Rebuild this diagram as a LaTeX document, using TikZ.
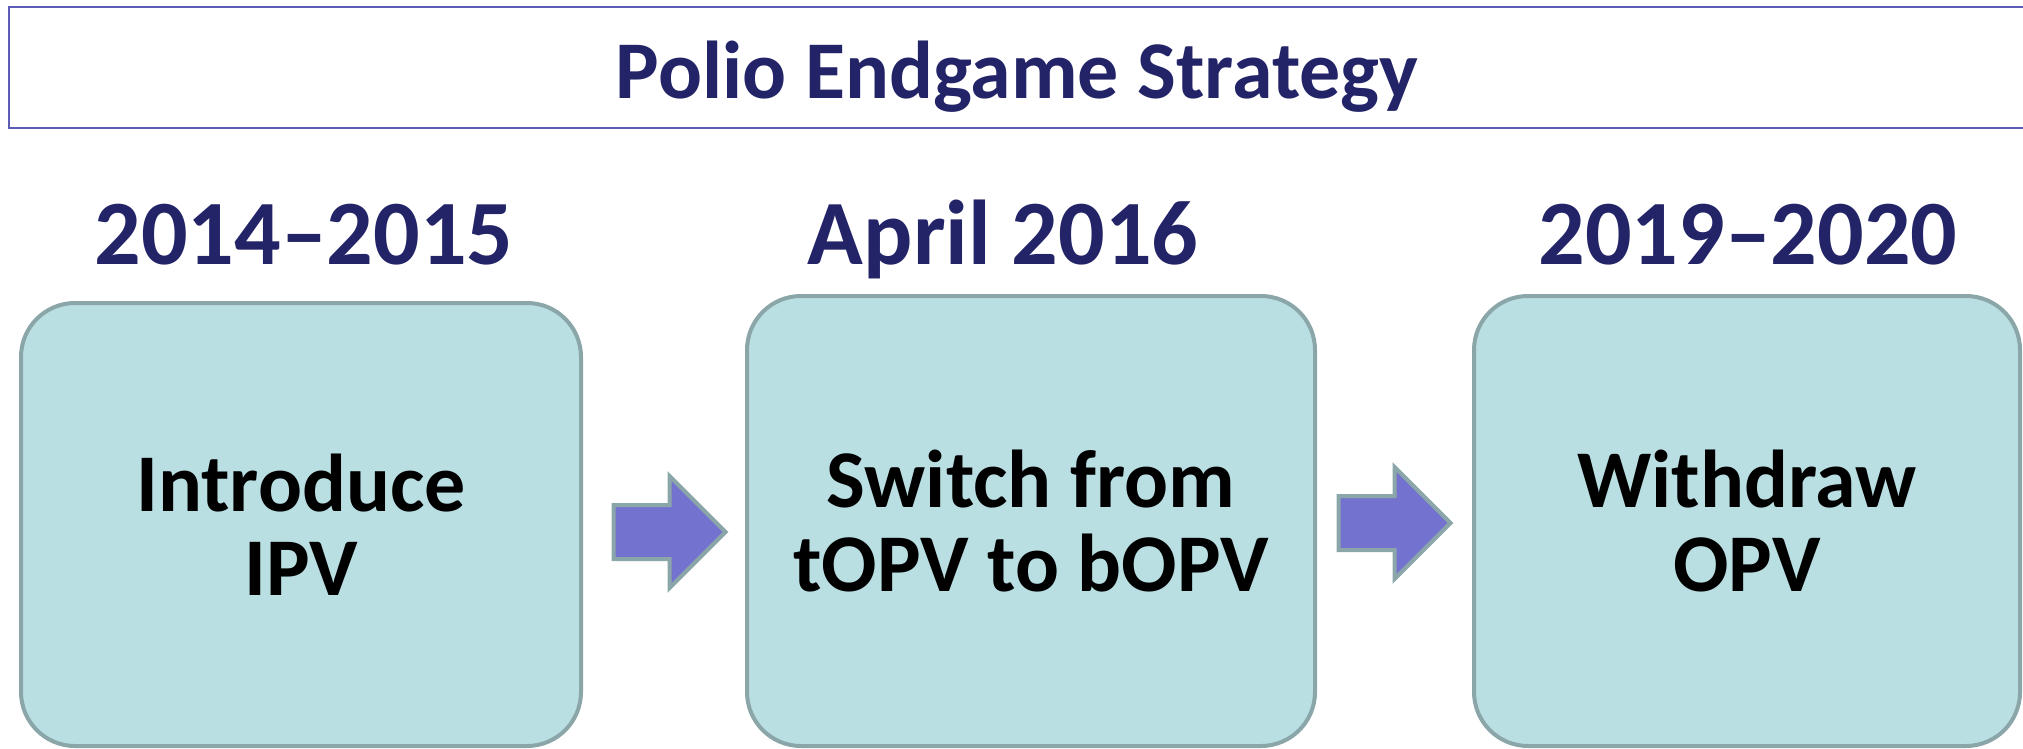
\documentclass[tikz,border=0pt]{standalone}
\usepackage{fontspec}
\setmainfont{Carlito}
\usetikzlibrary{shapes.arrows}
\definecolor{stagefill}{HTML}{B9DFE3}
\definecolor{stageline}{HTML}{8BA6A8}
\definecolor{navy}{RGB}{35,35,104}
\definecolor{arrowfill}{HTML}{7472CF}
\definecolor{frameline}{HTML}{5C5CB4}
\tikzset{
	stage/.style={draw=stageline,line width=2pt,fill=stagefill,rounded corners=27pt,
		align=center,inner sep=0pt,font=\fontsize{41}{42}\selectfont\bfseries},
	year/.style={anchor=base,text=navy,font=\fontsize{46}{48}\selectfont\bfseries},
	fwd/.style={single arrow,draw=stageline,line width=2pt,fill=arrowfill,inner sep=12.5pt,
		minimum height=56pt,minimum width=54pt,single arrow head extend=14.5pt},
}
\begin{document}
\begin{tikzpicture}[x=0.5pt,y=-0.5pt]
		\useasboundingbox(0,0)rectangle(2023,749);
		
		\node[draw=frameline,line width=0.8pt,inner sep=0pt,minimum width=1008pt,minimum height=60.5pt](frame)at(1017,67.5){};
		\node[anchor=base,text=navy,font=\fontsize{41}{42}\selectfont\bfseries](title)at(1017,99){Polio Endgame Strategy};
		
		\foreach \n/\x/\t in{1/304/2014--2015,2/1003/April 2016,3/1748/2019--2020}
		\node[year](y\n)at(\x,264){\t};
		
		\node[stage,minimum width=280pt,minimum height=221.5pt](s1)at(301,524.5){Introduce\\IPV};
		\node[stage,minimum width=284pt,minimum height=225pt](s2)at(1031,521){Switch from\\tOPV to bOPV};
		\node[stage,minimum width=273pt,minimum height=225pt](s3)at(1747,521){Withdraw\\OPV};
		
		\node[fwd](a1)at(656,532){};
		\node[fwd](a2)at(1381,523){};
	\end{tikzpicture}
\end{document}
